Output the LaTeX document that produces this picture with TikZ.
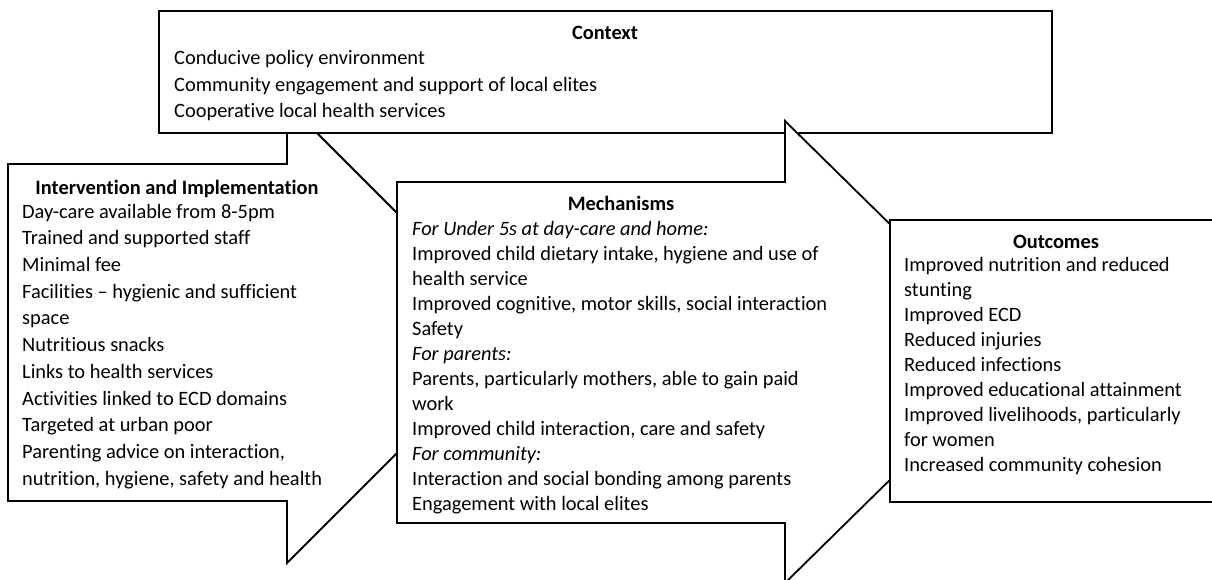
\documentclass[tikz,border=0pt]{standalone}
\usepackage{fontspec}
\setmainfont[Ligatures={NoCommon}]{Carlito}
\begin{document}
\begin{tikzpicture}[x=1pt,y=-1pt,
  shp/.style={draw=black,line width=1.8pt,fill=white,line join=miter},
  ttl/.style={font=\fontsize{20.4}{25}\selectfont\bfseries,inner sep=0pt,anchor=base},
  bodyA/.style={font=\fontsize{20.4}{26.7}\selectfont,inner sep=0pt,anchor=north west,align=left},
  bodyB/.style={font=\fontsize{20.4}{25}\selectfont,inner sep=0pt,anchor=north west,align=left}]
\clip (0,0) rectangle (1212,579);
% Intervention arrow
\draw[shp] (8,164) -- (287,164) -- (287,103) -- (517,333) -- (287,563) -- (287,501) -- (8,501) -- cycle;
% Context box
\draw[shp] (159,11) rectangle (1052,133);
% Mechanisms arrow
\draw[shp] (397,182) -- (785,182) -- (785,121) -- (1020,352) -- (785,583) -- (785,523) -- (397,523) -- cycle;
% Outcomes box
\draw[shp] (890,220) rectangle (1240,502);

\node[ttl] (ctxT) at (605,39.5) {Context};
\node[bodyA] (ctxB) at (174,45.5) {\strut Conducive policy environment\\
Community engagement and support of local elites\\
Cooperative local health services};

\node[ttl] (intT) at (177,194.5) {Intervention and Implementation};
\node[bodyA] (intB) at (22,199.3) {\strut Day-care available from 8-5pm\\
Trained and supported staff\\
Minimal fee\\
Facilities – hygienic and sufficient\\
space\\
Nutritious snacks\\
Links to health services\\
Activities linked to ECD domains\\
Targeted at urban poor\\
Parenting advice on interaction,\\
nutrition, hygiene, safety and health};

\node[ttl] (mecT) at (621,210) {Mechanisms};
\node[bodyB] (mecB) at (412,218) {\strut\textit{For Under 5s at day-care and home:}\\
Improved child dietary intake, hygiene and use of\\
health service\\
Improved cognitive, motor skills, social interaction\\
Safety\\
\textit{For parents:}\\
Parents, particularly mothers, able to gain paid\\
work\\
Improved child interaction, care and safety\\
\textit{For community:}\\
Interaction and social bonding among parents\\
Engagement with local elites};

\node[ttl] (outT) at (1056,248) {Outcomes};
\node[bodyB] (outB) at (904,254) {\strut Improved nutrition and reduced\\
stunting\\
Improved ECD\\
Reduced injuries\\
Reduced infections\\
Improved educational attainment\\
Improved livelihoods, particularly\\
for women\\
Increased community cohesion};
\end{tikzpicture}
\end{document}
